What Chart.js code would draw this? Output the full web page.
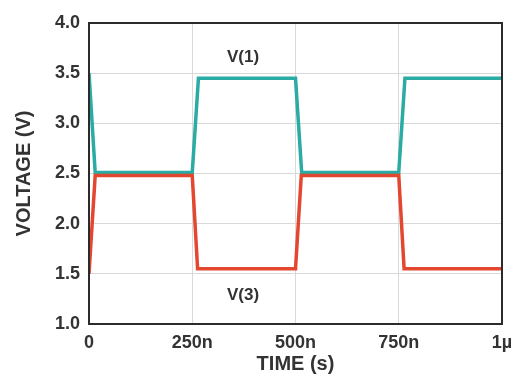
<!DOCTYPE html>
<html>
<head>
<meta charset="utf-8">
<script src="https://cdn.jsdelivr.net/npm/chart.js@4/dist/chart.umd.min.js"></script>
<style>
  html, body { margin: 0; padding: 0; background: #fff; }
  #wrap { width: 515px; height: 376px; position: relative; }
</style>
</head>
<body>
<div id="wrap"><canvas id="c" width="515" height="376"></canvas></div>
<script>
// Data (time in ns)
const timeV1 = [0, 15, 250, 265, 500, 515, 750, 765, 1000];
const v1 =     [3.5, 2.51, 2.51, 3.45, 3.45, 2.51, 2.51, 3.45, 3.45];
const timeV3 = [0, 15, 250, 263, 500, 514, 750, 763, 1000];
const v3 =     [1.5, 2.48, 2.48, 1.55, 1.55, 2.48, 2.48, 1.55, 1.55];
const xTickValues = [0, 250, 500, 750, 1000];
const xTickLabels = ['0', '250n', '500n', '750n', '1\u00b5'];
const seriesLabels = ['V(1)', 'V(3)'];
const labelPos = [[373, 3.66], [373, 1.29]];

const FONT = "'Liberation Sans', Arial, Helvetica, sans-serif";

const framePlugin = {
  id: 'frame',
  afterDatasetsDraw(chart) {
    const { ctx, chartArea: a, scales } = chart;
    ctx.save();
    ctx.strokeStyle = '#2b2b2b';
    ctx.lineWidth = 2;
    ctx.strokeRect(a.left, a.top, a.right - a.left, a.bottom - a.top);
    ctx.fillStyle = '#333';
    ctx.font = 'bold 17px ' + FONT;
    ctx.textAlign = 'center';
    ctx.textBaseline = 'middle';
    seriesLabels.forEach((t, i) => {
      ctx.fillText(t, scales.x.getPixelForValue(labelPos[i][0]), scales.y.getPixelForValue(labelPos[i][1]));
    });
    ctx.restore();
  }
};

new Chart(document.getElementById('c'), {
  type: 'line',
  data: {
    datasets: [
      {
        label: seriesLabels[1],
        data: timeV3.map((t, i) => ({ x: t, y: v3[i] })),
        borderColor: '#e3472f',
        borderWidth: 3.5,
        pointRadius: 0,
        tension: 0,
        fill: false
      },
      {
        label: seriesLabels[0],
        data: timeV1.map((t, i) => ({ x: t, y: v1[i] })),
        borderColor: '#2aaba3',
        borderWidth: 3.5,
        pointRadius: 0,
        tension: 0,
        fill: false
      }
    ]
  },
  options: {
    responsive: false,
    animation: false,
    layout: { padding: { left: 12, right: 13, top: 23, bottom: 0 } },
    plugins: { legend: { display: false }, tooltip: { enabled: false } },
    scales: {
      x: {
        type: 'linear',
        min: 0,
        max: 1000,
        afterBuildTicks(scale) { scale.ticks = xTickValues.map(v => ({ value: v })); },
        afterFit(scale) { scale.height = 52; scale.paddingRight = 0; scale.paddingLeft = 0; },
        grid: { color: '#d9d9d9', lineWidth: 1, drawTicks: false },
        border: { display: false },
        ticks: {
          padding: 8,
          color: '#333',
          font: { family: FONT, size: 18, weight: 'bold' },
          maxRotation: 0,
          callback(v) { const i = xTickValues.indexOf(v); return i >= 0 ? xTickLabels[i] : ''; }
        },
        title: {
          display: true,
          text: 'TIME (s)',
          color: '#333',
          padding: { top: 0, bottom: 0 },
          font: { family: FONT, size: 20, weight: 'bold' }
        }
      },
      y: {
        min: 1.0,
        max: 4.0,
        afterFit(scale) { scale.width = 77; scale.paddingTop = 0; scale.paddingBottom = 0; },
        grid: { color: '#d9d9d9', lineWidth: 1, drawTicks: false },
        border: { display: false },
        ticks: {
          stepSize: 0.5,
          padding: 9,
          color: '#333',
          font: { family: FONT, size: 18, weight: 'bold' },
          callback(v) { return Number(v).toFixed(1); }
        },
        title: {
          display: true,
          text: 'VOLTAGE (V)',
          color: '#333',
          padding: { top: 0, bottom: 0 },
          font: { family: FONT, size: 20, weight: 'bold' }
        }
      }
    }
  },
  plugins: [framePlugin]
});
</script>
</body>
</html>
